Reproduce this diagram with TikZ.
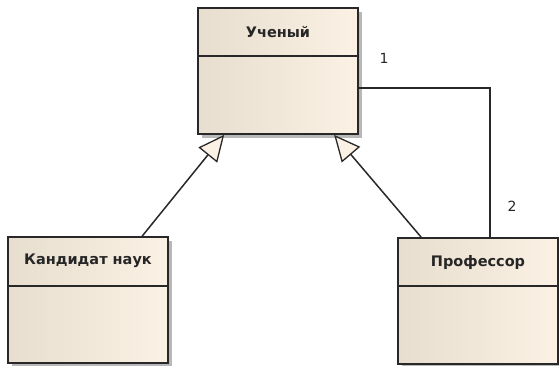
\documentclass[tikz,border=0pt]{standalone}
\usepackage{fontspec}
\newfontfamily\tah{DejaVu Sans}
\usetikzlibrary{arrows.meta,calc,shadows}
\definecolor{cream}{RGB}{251,241,228}
\definecolor{creamdark}{RGB}{231,222,207}
\definecolor{edge}{RGB}{40,40,40}
\tikzset{
  classbox/.style={draw=edge, line width=1.7pt, rectangle, minimum width=160pt, minimum height=126pt,
    inner sep=0pt, left color=creamdark, right color=cream,
    drop shadow={shadow xshift=4pt, shadow yshift=-4pt, fill=black!28, opacity=1}},
  classname/.style={font=\tah\bfseries\fontsize{14.5}{17}\selectfont, text=black!85, inner sep=0pt},
  divider/.style={draw=edge, line width=1.5pt},
  assoc/.style={draw=edge, line width=1.5pt},
  gen/.style={draw=edge, line width=1.5pt, -{Triangle[length=26pt, width=24pt, fill=cream, line width=1.3pt]}},
  mult/.style={font=\tah\fontsize{14}{17}\selectfont, text=black!85, inner sep=0pt}
}
\begin{document}
\begin{tikzpicture}[x=1pt,y=-1pt]
\useasboundingbox (0,0) rectangle (559,365);
\node[classbox] (U) at (278,71) {};
\node[classbox] (K) at (88,300) {};
\node[classbox] (P) at (478,301) {};
\draw[divider] ($(U.north west)+(0,49)$) -- ($(U.north east)+(0,49)$);
\draw[divider] ($(K.north west)+(0,50)$) -- ($(K.north east)+(0,50)$);
\draw[divider] ($(P.north west)+(0,49)$) -- ($(P.north east)+(0,49)$);
\node[classname] (Ut) at ($(U.north)+(0,25)$) {Ученый};
\node[classname] (Kt) at ($(K.north)+(0,25)$) {Кандидат наук};
\node[classname] (Pt) at ($(P.north)+(0,25)$) {Профессор};
\coordinate (a1) at ($(U.east)+(0,17)$);
\coordinate (a2) at ($(P.north west)+(93,0)$);
\draw[assoc] (a1) -| (a2);
\draw[gen] ($(K.north west)+(135,0)$) -- ($(U.south west)+(27,0)$);
\draw[gen] ($(P.north west)+(24,0)$) -- ($(U.south west)+(137,0)$);
\node[mult] (m1) at (384,58) {1};
\node[mult] (m2) at (512,206) {2};
\end{tikzpicture}
\end{document}
